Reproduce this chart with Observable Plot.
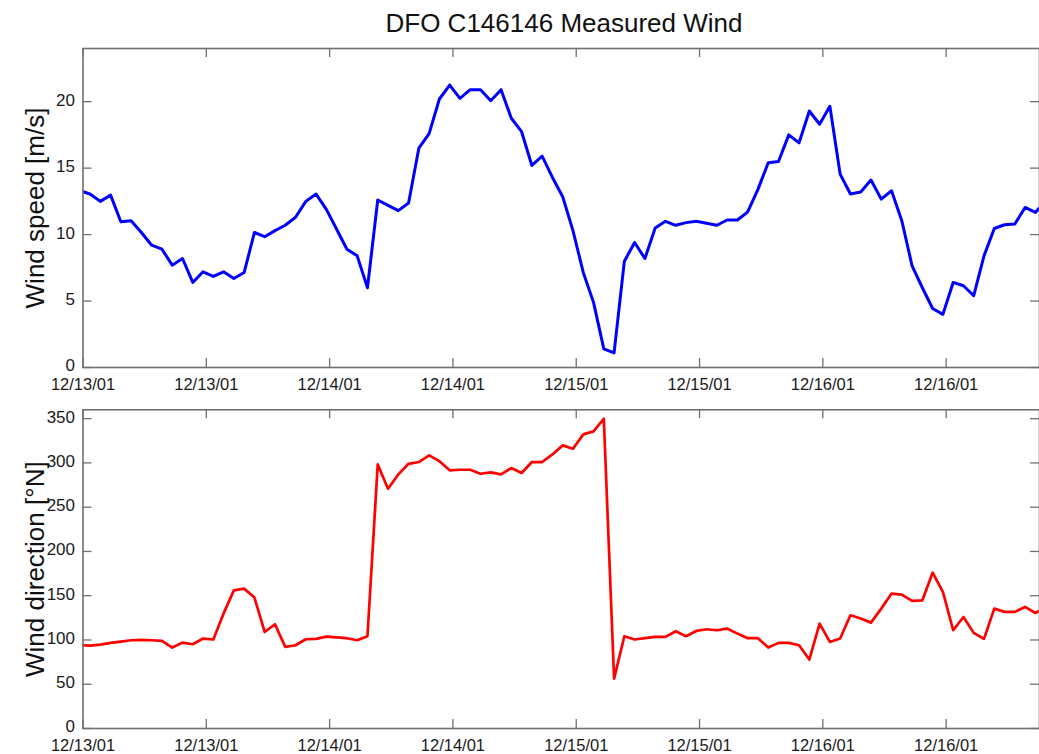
<!DOCTYPE html>
<html>
<head>
<meta charset="utf-8">
<script src="https://cdn.jsdelivr.net/npm/d3@7"></script>
<script src="https://cdn.jsdelivr.net/npm/@observablehq/plot@0.6"></script>
<style>
  body { margin: 0; background: #fff; }
  #wrap { position: relative; width: 1039px; height: 754px; overflow: hidden; background: #fff;
          font-family: "Liberation Sans", Arial, Helvetica, sans-serif; }
  #title { position: absolute; left: 0; top: 10px; width: 1128px; text-align: center;
           font-size: 26px; line-height: 26px; color: #111; }
  .panel { position: absolute; left: 0; }
</style>
</head>
<body>
<div id="wrap"><div id="title"></div></div>
<script>
// ---- data (hourly samples, first sample at startTime) ----
const startTime = "2001-12-12T23:41:00Z";
const speed = [
  13.3,
  13.05, 12.5, 12.97, 10.97, 11.04, 10.16, 9.2, 8.9, 7.7, 8.2,
  6.4, 7.2, 6.85, 7.2, 6.7, 7.15, 10.16, 9.84, 10.3, 10.7,
  11.3, 12.5, 13.05, 11.9, 10.4, 8.9, 8.4, 6.0, 12.6, 12.2,
  11.8, 12.37, 16.5, 17.6, 20.2, 21.25, 20.25, 20.9, 20.9, 20.07,
  20.9, 18.75, 17.74, 15.2, 15.9, 14.3, 12.85, 10.3, 7.15, 4.9,
  1.4, 1.1, 8.0, 9.4, 8.2, 10.5, 11.0, 10.7, 10.9, 11.0,
  10.85, 10.7, 11.1, 11.1, 11.7, 13.4, 15.4, 15.5, 17.5, 16.9,
  19.3, 18.3, 19.65, 14.55, 13.05, 13.2, 14.1, 12.67, 13.3, 11.04,
  7.65, 6.0, 4.44, 4.0, 6.4, 6.15, 5.4, 8.4, 10.46, 10.74,
  10.8, 12.04, 11.67, 12.5
];
const direction = [
  94.1,
  93.7, 94.8, 96.7, 98.2, 99.7, 100.1, 99.7, 99, 91.4, 97,
  95.2, 101.6, 100.5, 130, 156, 158, 147.9, 109, 117.8, 92.2,
  94, 100.8, 101.2, 103.8, 103, 102, 99.7, 104.2, 298.3, 270.9,
  287, 299, 301, 308.5, 302, 291.6, 292.3, 292.3, 287.8, 289.3,
  287, 294.2, 288.6, 301, 301, 309.6, 319.8, 316, 332.2, 335.6,
  349.9, 56.4, 104.2, 100.5, 102, 103.5, 103.5, 109.9, 104.2, 110.2,
  112.1, 111, 112.9, 107.2, 102, 102, 91.4, 96.7, 96.7, 94,
  77.9, 118.5, 97.8, 101.6, 127.9, 124.2, 119.6, 135.4, 152.4, 151.2,
  144.1, 144.8, 176, 154.3, 111, 126, 108, 101.2, 135.4, 131.7,
  131.7, 137.3, 130.5, 137
];
const xDomain = ["2001-12-13T00:00:00Z", "2001-12-16T21:05:00Z"];
const xTickTimes = [
  "2001-12-13T00:00:00Z", "2001-12-13T12:00:00Z", "2001-12-14T00:00:00Z", "2001-12-14T12:00:00Z",
  "2001-12-15T00:00:00Z", "2001-12-15T12:00:00Z", "2001-12-16T00:00:00Z", "2001-12-16T12:00:00Z"
];
const speedTicks = [0, 5, 10, 15, 20];
const directionTicks = [0, 50, 100, 150, 200, 250, 300, 350];
const speedDomain = [0, 24];
const directionDomain = [0, 360];
const titleText = "DFO C146146 Measured Wind";
const speedLabel = "Wind speed [m/s]";
const directionLabel = "Wind direction [°N]";

// ---- build ----
const t0 = new Date(startTime).getTime();
const toRows = vals => vals.map((v, i) => ({t: new Date(t0 + i * 3600e3), v}));
const ticksX = xTickTimes.map(d => new Date(d));
const fmt = d3.utcFormat("%m/%d/%y");
const W = 1039, ML = 82.5, MR = 0;
const axisColor = "#707070";
const font = '"Liberation Sans", Arial, Helvetica, sans-serif';

function panel({rows, color, sw, yDomain, yTicks, label, height, mt, mb}) {
  const fh = height - mt - mb;
  const fw = W - ML - MR;
  const tl = 9;
  return Plot.plot({
    width: W, height, marginLeft: ML, marginRight: MR, marginTop: mt, marginBottom: mb,
    style: {fontFamily: font, fontSize: "17px", color: "#1a1a1a", background: "transparent", overflow: "visible"},
    x: {type: "utc", domain: xDomain.map(d => new Date(d))},
    y: {domain: yDomain},
    marks: [
      Plot.lineY(rows, {x: "t", y: "v", stroke: color, strokeWidth: sw, clip: true, strokeLinejoin: "round"}),
      Plot.frame({stroke: axisColor, strokeWidth: 1.6}),
      Plot.ruleX(ticksX, {x: d => d, insetTop: fh - tl, stroke: axisColor, strokeWidth: 1.3}),
      Plot.ruleX(ticksX, {x: d => d, insetBottom: fh - tl, stroke: axisColor, strokeWidth: 1.3}),
      Plot.ruleY(yTicks, {y: d => d, insetRight: fw - tl, stroke: axisColor, strokeWidth: 1.3}),
      Plot.ruleY(yTicks, {y: d => d, insetLeft: fw - tl, stroke: axisColor, strokeWidth: 1.3}),
      Plot.axisX(ticksX, {tickSize: 0, tickPadding: 10.75, tickFormat: fmt, label: null, fill: "#1a1a1a", fontSize: 16.5}),
      Plot.axisY(yTicks, {tickSize: 0, tickPadding: 8, label: null, fill: "#1a1a1a", dy: -1.5}),
      Plot.text([label], {frameAnchor: "left", rotate: -90, dx: -39.5, lineAnchor: "bottom",
                          textAnchor: "middle", fontSize: 26, fill: "#111", text: d => d})
    ]
  });
}

const wrap = document.getElementById("wrap");
document.getElementById("title").textContent = titleText;

const speedChart = panel({rows: toRows(speed), color: "#0000ff", sw: 3, yDomain: speedDomain, yTicks: speedTicks,
                   label: speedLabel, height: 400, mt: 48, mb: 33});
speedChart.classList.add("panel"); speedChart.style.top = "0px";
wrap.appendChild(speedChart);

const directionChart = panel({rows: toRows(direction), color: "#ff0000", sw: 2.7, yDomain: directionDomain, yTicks: directionTicks,
                      label: directionLabel, height: 354, mt: 9.3, mb: 26});
directionChart.classList.add("panel"); directionChart.style.top = "400px";
wrap.appendChild(directionChart);
</script>
</body>
</html>
